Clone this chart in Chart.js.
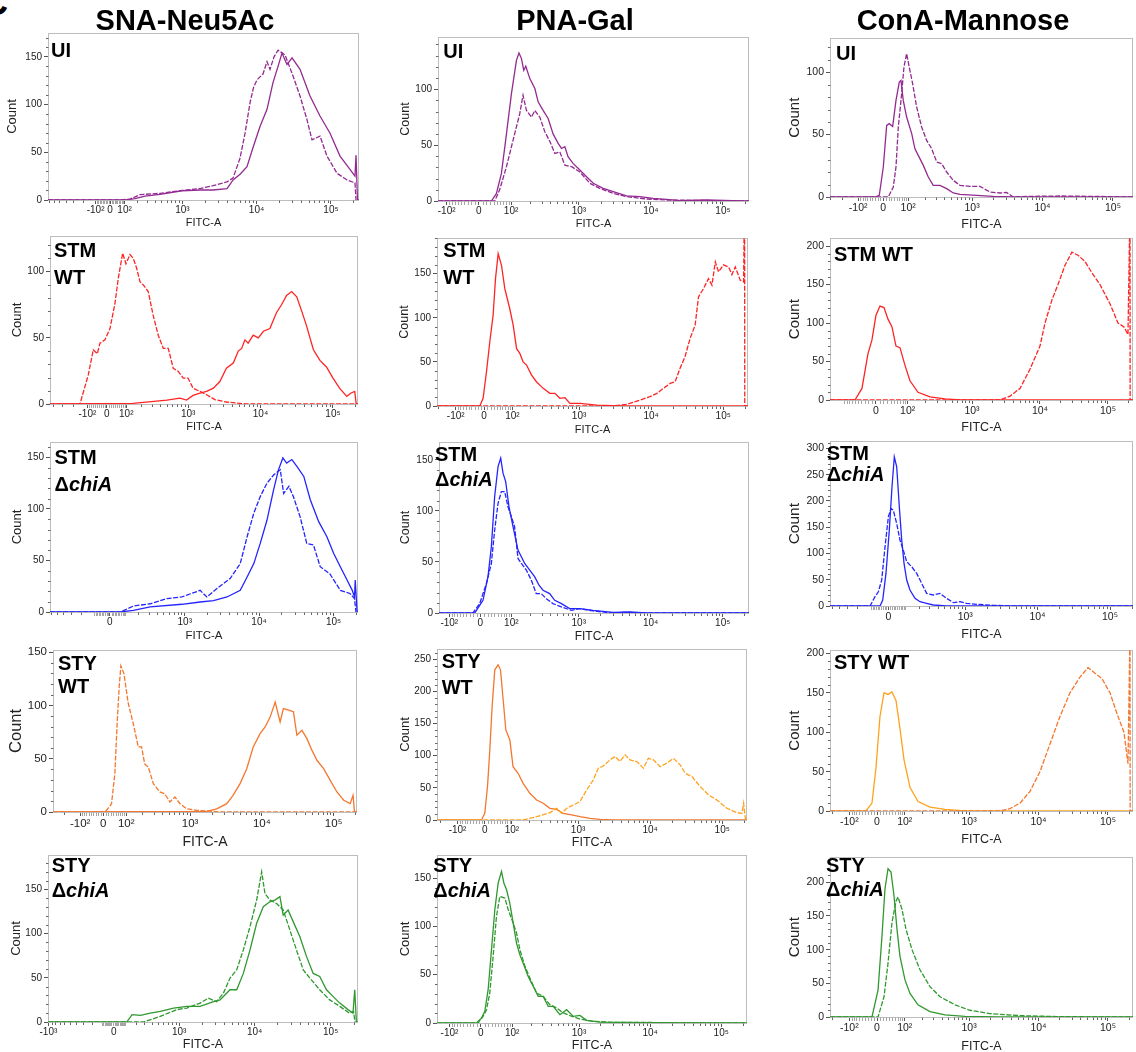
<!DOCTYPE html>
<html>
<head>
<meta charset="utf-8">
<script src="https://cdn.jsdelivr.net/npm/chart.js@4.4.1/dist/chart.umd.min.js"></script>
<style>
  body { margin: 0; background: #fff; width: 1136px; height: 1052px; position: relative; overflow: hidden;
         font-family: "Liberation Sans", Arial, sans-serif; }
  canvas { position: absolute; }
  .col { position: absolute; width: 300px; text-align: center; font-weight: bold; font-size: 29px; line-height: 1; color: #000; }
  .lab { position: absolute; font-weight: bold; font-size: 20px; color: #000; white-space: nowrap; }
  .lab i { font-style: italic; }
  .cut { position: absolute; left: -18px; top: -15px; font-weight: bold; font-size: 36px; line-height: 1; }
</style>
</head>
<body>
<div class="cut">C</div>
<script>
// column titles
const columns = ['SNA-Neu5Ac', 'PNA-Gal', 'ConA-Mannose'];

// x tick values (FITC) and their labels
const ticksStd = [-100, 0, 100, 1000, 10000, 100000];
const labelsStd = ['-10²', '0', '10²', '10³', '10⁴', '10⁵'];
const ticksZero = [0, 1000, 10000, 100000];
const labelsZero = ['0', '10³', '10⁴', '10⁵'];
const ticksNeg3 = [-1000, 0, 1000, 10000, 100000];
const labelsNeg3 = ['-10³', '0', '10³', '10⁴', '10⁵'];
const ticksNoNeg = [0, 100, 1000, 10000, 100000];
const labelsNoNeg = ['0', '10²', '10³', '10⁴', '10⁵'];

// histograms: [display position (decades), count]
// SNA-Neu5Ac
const sna_ui_solid = [[1.20,0],[2.235,0],[2.369,1.5],[2.503,4],[2.705,6],[3.0,9.7],[3.242,10.5],[3.416,10.5],[3.604,12],[3.685,21],[3.779,27],[3.872,35],[3.953,55],[4.047,77],[4.141,95],[4.221,123],[4.289,140],[4.342,154],[4.409,142],[4.477,149],[4.584,137],[4.718,109],[4.852,88],[4.987,70],[5.121,46],[5.255,32],[5.322,25],[5.336,47],[5.356,0],[5.376,0]];
const sna_ui_dashed = [[1.20,0],[2.168,0],[2.302,1],[2.436,5.6],[2.705,7],[3.0,10],[3.242,12],[3.416,15],[3.604,19],[3.685,23],[3.779,44],[3.846,70],[3.913,102],[3.96,118],[4.007,126],[4.087,132],[4.141,145],[4.181,137],[4.235,150],[4.289,157],[4.383,152],[4.490,130],[4.584,109],[4.678,84],[4.745,63],[4.852,67],[4.946,46],[5.081,28],[5.215,21],[5.322,18],[5.336,0]];
const sna_stmwt_solid = [[1.097,0],[2.24,0.5],[2.71,3],[2.89,4.5],[2.98,3],[3.07,6.5],[3.165,8.3],[3.258,9.5],[3.35,12],[3.44,17],[3.53,27],[3.625,31],[3.694,40],[3.74,42],[3.786,48.5],[3.83,46],[3.9,52],[3.97,50],[4.04,55],[4.13,57],[4.22,69],[4.29,75],[4.36,82],[4.43,85],[4.5,81],[4.57,70],[4.63,60],[4.73,41],[4.82,33],[4.91,28],[5.0,19.6],[5.09,12],[5.19,5.8],[5.25,8.3],[5.3,9.5],[5.32,0],[5.345,0]];
const sna_stmwt_dashed = [[1.097,0],[1.51,0],[1.625,22],[1.694,41],[1.749,38],[1.786,46],[1.855,48.5],[1.924,57],[1.993,76],[2.039,95],[2.099,114],[2.145,106],[2.2,113],[2.246,110],[2.292,102.6],[2.338,92.5],[2.384,90],[2.452,85],[2.52,67],[2.59,52],[2.66,42],[2.728,42],[2.797,27],[2.866,24.6],[2.935,19.6],[3.0,19.6],[3.07,12],[3.165,9.5],[3.258,7],[3.37,3.3],[3.53,1.5],[3.62,1],[3.81,0],[5.345,0]];
const sna_stmko_solid = [[1.197,0],[2.14,0],[2.315,1.6],[2.54,5],[2.965,7.5],[3.21,9.7],[3.39,11],[3.57,14.6],[3.748,21],[3.84,34],[3.93,47],[4.016,66.6],[4.106,89],[4.195,118.6],[4.26,138],[4.32,149.5],[4.37,144.6],[4.44,148],[4.51,141],[4.6,131.6],[4.687,109],[4.8,87.7],[4.91,73],[5.0,57],[5.09,44],[5.18,31],[5.25,21],[5.28,14.6],[5.29,31],[5.315,0],[5.327,0]];
const sna_stmko_dashed = [[1.197,0],[2.14,0],[2.315,5.8],[2.54,8],[2.764,13],[2.965,14.6],[3.21,21],[3.3,14.6],[3.435,22.7],[3.613,32.5],[3.748,47],[3.84,73],[3.93,96],[4.016,112],[4.106,125],[4.195,133],[4.285,138],[4.33,115],[4.4,122],[4.46,112],[4.55,92.6],[4.64,66.6],[4.73,65],[4.82,44],[4.95,37],[5.09,21],[5.22,18],[5.28,13],[5.3,0]];
const sna_stywt_solid = [[1.093,0],[3.233,0.5],[3.372,3],[3.512,7.8],[3.6,15.6],[3.697,26.6],[3.79,40.6],[3.88,61],[3.976,73.5],[4.046,79.7],[4.116,89],[4.186,103],[4.255,84.4],[4.3,97],[4.395,95],[4.44,94],[4.488,72],[4.558,76.6],[4.628,68.8],[4.697,58],[4.767,48.5],[4.86,40.6],[4.953,29.7],[5.046,18.8],[5.14,11],[5.23,7.8],[5.27,15.6],[5.29,0],[5.325,0]];
const sna_stywt_dashed = [[1.093,0],[1.80,0],[1.838,1.5],[1.908,7.8],[1.954,36],[1.986,83],[2.014,117],[2.038,137],[2.08,130],[2.14,102],[2.21,83],[2.28,61],[2.326,61],[2.37,45],[2.42,42],[2.49,26.6],[2.58,18.8],[2.65,17],[2.72,9.4],[2.79,14],[2.86,7.8],[2.954,3],[3.093,1.5],[3.233,1],[3.418,0],[5.325,0]];
const sna_styko_solid = [[1.285,0],[2.324,0.5],[2.39,8.3],[2.5,7.5],[2.63,10],[2.76,12],[2.935,15.8],[3.11,17.7],[3.284,17.7],[3.46,23],[3.546,25],[3.677,36.5],[3.765,36.5],[3.852,55],[3.94,81.6],[4.027,111.7],[4.114,130.5],[4.2,136],[4.267,138],[4.333,141.8],[4.376,121],[4.44,126.8],[4.507,113.6],[4.594,96.7],[4.683,74],[4.77,55],[4.856,51.5],[4.945,36.5],[5.03,29],[5.12,21.4],[5.228,14],[5.293,10],[5.316,36.5],[5.338,0],[5.359,0]];
const sna_styko_dashed = [[1.285,0],[2.54,0],[2.76,6.4],[2.98,14],[3.11,15.8],[3.284,21.4],[3.393,27],[3.503,23],[3.59,32.7],[3.677,49.7],[3.765,59],[3.852,81.6],[3.94,108],[4.027,138],[4.093,170],[4.136,145.6],[4.2,138],[4.29,134],[4.376,126.8],[4.464,104],[4.55,81.6],[4.64,59],[4.726,49.7],[4.856,36.5],[4.987,25],[5.12,17.7],[5.247,10],[5.3,12],[5.32,0]];

// PNA-Gal
const pna_ui_solid = [[1.046,0],[1.787,0],[1.857,6.8],[1.926,24.7],[1.996,60],[2.065,96],[2.135,126],[2.17,132.4],[2.204,127.4],[2.236,117],[2.264,120.5],[2.32,109.5],[2.39,100.6],[2.435,88.7],[2.504,81],[2.574,73.8],[2.643,60],[2.713,51.5],[2.76,47],[2.806,48.5],[2.85,39.6],[2.92,33.6],[3.014,27.7],[3.107,21.7],[3.2,15.8],[3.338,11.3],[3.476,8.3],[3.662,4.5],[3.847,3.9],[4.03,2.4],[4.218,1.5],[4.4,0.3],[4.77,0.9],[5.14,0.3],[5.361,0]];
const pna_ui_dashed = [[1.046,0],[1.833,0],[1.9,9.8],[1.996,30.7],[2.088,54.5],[2.18,78],[2.226,94.6],[2.273,81],[2.343,75],[2.39,81],[2.458,75],[2.528,62],[2.6,53],[2.667,42.6],[2.736,44],[2.806,32],[2.9,30.7],[3.014,26],[3.153,15.8],[3.29,11.3],[3.476,6.8],[3.662,3.9],[3.94,1.8],[4.218,0.9],[5.361,0]];
const pna_stmwt_solid = [[1.032,0],[1.625,0],[1.671,8.7],[1.718,38.8],[1.764,72.8],[1.81,103],[1.843,144.4],[1.88,172.7],[1.926,159.5],[1.972,133],[2.04,110.5],[2.088,91.6],[2.135,65],[2.18,59.6],[2.226,50],[2.273,46.4],[2.343,35],[2.41,27.5],[2.504,20],[2.597,14.3],[2.667,14.3],[2.736,8.7],[2.806,9.4],[2.875,3],[3.014,3],[3.246,1.1],[3.476,0.4],[3.662,0],[5.343,0]];
const pna_stmwt_dashed = [[1.032,0],[3.476,0],[3.662,1.9],[3.847,6.8],[3.986,10.6],[4.08,14.3],[4.17,20],[4.264,25.6],[4.333,27.5],[4.4,42.6],[4.47,55.8],[4.54,76.5],[4.61,91.6],[4.657,123.7],[4.726,133],[4.795,144.4],[4.843,137],[4.89,163.3],[4.935,152],[5.004,160],[5.074,157.6],[5.12,149],[5.167,157.6],[5.236,142.5],[5.282,140.6],[5.296,250],[5.298,0],[5.343,0]];
const pna_stmko_solid = [[1.06,0],[1.556,0],[1.625,7.5],[1.671,12.4],[1.74,35.4],[1.787,64.8],[1.833,114],[1.88,143.4],[1.917,151.6],[1.949,136.9],[1.986,128.7],[2.032,104],[2.088,84.5],[2.157,61.6],[2.25,48.5],[2.32,42],[2.39,35.4],[2.449,27.2],[2.504,22.3],[2.597,19],[2.667,12.4],[2.76,9.2],[2.875,4.3],[3.014,4.3],[3.2,2.6],[3.476,0.7],[3.71,1],[3.94,0],[5.365,0]];
const pna_stmko_dashed = [[1.06,0],[1.532,0],[1.625,9.2],[1.718,28.8],[1.787,48.5],[1.833,81.2],[1.88,107.4],[1.926,118.9],[1.972,118.9],[2.018,104],[2.065,94.3],[2.11,84.5],[2.157,53.4],[2.204,48.5],[2.273,42],[2.343,32],[2.41,19],[2.48,19],[2.55,14],[2.643,9.2],[2.76,5.9],[2.9,2.6],[3.014,4.3],[3.2,2],[3.476,0],[3.662,0.7],[3.94,0],[5.365,0]];
const pna_stywt_solid = [[1.046,0],[1.663,0],[1.708,10.4],[1.746,52],[1.778,109],[1.81,176.5],[1.847,233.6],[1.893,241.4],[1.926,233.6],[1.963,187],[2.0,140.2],[2.056,124.6],[2.1,83],[2.17,72.7],[2.24,57],[2.333,41.5],[2.426,31],[2.518,26],[2.611,18.2],[2.704,16.6],[2.796,10.4],[2.912,7.8],[3.028,5.2],[3.167,2.6],[3.306,1],[3.49,0],[5.343,0]];
const pna_stywt_dashed = [[1.046,0],[2.24,0],[2.426,5.2],[2.611,11.4],[2.704,18.2],[2.774,10.4],[2.843,18.2],[2.935,23.4],[3.028,28.6],[3.12,46.7],[3.213,62.3],[3.282,80.5],[3.35,84],[3.444,93.5],[3.514,98.7],[3.583,91],[3.653,101.3],[3.722,93.5],[3.815,91],[3.907,80.5],[3.976,96],[4.046,93.5],[4.139,83],[4.23,88.3],[4.324,96],[4.417,85.7],[4.486,72.7],[4.58,67.5],[4.694,52],[4.81,39],[4.926,31],[5.065,18.2],[5.204,11.4],[5.273,10.4],[5.296,26],[5.32,2.6],[5.343,0]];
const pna_styko_solid = [[1.004,0],[1.559,0],[1.63,5.2],[1.676,12],[1.723,34.5],[1.77,76],[1.817,117.3],[1.864,145],[1.911,157],[1.944,145],[1.982,138],[2.028,124],[2.075,103.5],[2.122,82.8],[2.169,70.7],[2.216,62],[2.286,48.3],[2.356,38],[2.427,27.6],[2.497,27.6],[2.568,17.3],[2.638,17.3],[2.732,8.6],[2.827,13.8],[2.92,6.9],[3.014,7.9],[3.108,2.8],[3.296,1],[3.577,0.7],[3.953,0.3],[5.362,0]];
const pna_styko_dashed = [[1.004,0],[1.582,0],[1.652,6.9],[1.7,13.8],[1.746,31],[1.793,69],[1.84,110.4],[1.887,131],[1.958,129.4],[2.005,117.3],[2.075,103.5],[2.122,93.2],[2.169,76],[2.24,58.7],[2.31,46.6],[2.404,31],[2.497,27.6],[2.59,19],[2.686,15.5],[2.78,10.4],[2.9,6.9],[3.014,4.1],[3.2,1.7],[3.483,0.7],[5.362,0]];

// ConA-Mannose
const cona_ui_solid = [[0.986,0],[1.624,0],[1.685,1.3],[1.742,24],[1.79,57.3],[1.827,58.7],[1.875,56.5],[1.922,77.3],[1.969,92],[1.993,93.3],[2.025,77.3],[2.073,64],[2.145,50.7],[2.19,38.7],[2.238,33.3],[2.31,25.3],[2.38,16],[2.45,9.3],[2.546,9.3],[2.64,6.7],[2.735,3.2],[2.83,2.1],[3.066,1.3],[3.3,0.5],[3.586,0],[5.284,0]];
const cona_ui_dashed = [[0.986,0],[1.813,0],[1.884,8],[1.922,24],[1.955,56],[2.0,81.3],[2.035,104],[2.073,114.7],[2.11,104],[2.158,90.7],[2.215,72],[2.286,56],[2.357,45.3],[2.428,38.7],[2.5,28],[2.57,26.7],[2.64,20],[2.735,13.3],[2.83,9.3],[2.97,8.5],[3.113,8.5],[3.255,4],[3.397,3.2],[3.49,3.7],[3.586,0],[3.776,0.5],[4.248,0.8],[4.72,0.5],[5.284,0]];
const cona_stmwt_solid = [[0.912,0],[1.279,0],[1.382,15],[1.47,60],[1.529,78],[1.588,110],[1.647,122],[1.706,120],[1.765,105],[1.824,95],[1.882,70],[1.941,68],[2.015,45],[2.088,25],[2.206,10],[2.382,4],[2.603,1.5],[2.824,0],[5.368,0]];
const cona_stmwt_dashed = [[0.912,0],[3.412,0],[3.559,5],[3.706,15],[3.853,40],[4.0,70],[4.074,100],[4.176,130],[4.265,150],[4.368,175],[4.47,192],[4.559,188],[4.662,180],[4.765,165],[4.882,150],[5.029,125],[5.147,100],[5.235,95],[5.294,85],[5.324,250],[5.326,0],[5.368,0]];
const cona_stmko_solid = [[1.138,0],[1.828,0],[1.865,11.4],[1.91,62],[1.956,144.5],[1.993,227],[2.025,284],[2.058,265],[2.094,189],[2.127,125.5],[2.159,81],[2.196,49.4],[2.241,30.4],[2.31,14.6],[2.379,8.2],[2.471,5],[2.563,1.9],[2.747,0],[5.317,0]];
const cona_stmko_dashed = [[1.138,0],[1.69,0],[1.759,17.7],[1.805,27],[1.851,49.4],[1.897,112.8],[1.943,170],[1.98,185.7],[2.011,182.5],[2.058,157],[2.103,125.5],[2.149,106.5],[2.196,84.3],[2.265,74.8],[2.334,62],[2.403,43],[2.471,24],[2.563,21],[2.655,24],[2.747,14.6],[2.839,6.3],[2.931,8.2],[3.023,5],[3.16,3.2],[3.39,1.3],[3.666,0],[5.317,0]];
const cona_stywt_solid = [[1.0,0],[1.518,0],[1.604,10],[1.662,55],[1.719,120],[1.777,150],[1.835,148],[1.892,151],[1.95,140],[2.007,105],[2.065,65],[2.151,30],[2.266,12],[2.439,5],[2.655,2],[2.942,0],[5.36,0]];
const cona_stywt_dashed = [[1.0,0],[3.446,0],[3.59,3],[3.734,10],[3.878,25],[4.022,50],[4.165,85],[4.309,120],[4.453,150],[4.597,170],[4.712,182],[4.813,175],[4.914,168],[5.029,150],[5.144,120],[5.23,100],[5.288,60],[5.317,230],[5.319,0],[5.36,0]];
const cona_styko_solid = [[1.0,0],[1.604,0],[1.691,40],[1.748,120],[1.791,190],[1.835,220],[1.878,215],[1.921,180],[1.964,130],[2.007,90],[2.079,55],[2.151,35],[2.266,18],[2.439,8],[2.655,3],[2.942,1],[3.446,0],[5.36,0]];
const cona_styko_dashed = [[1.0,0],[1.691,0],[1.777,30],[1.835,80],[1.892,140],[1.95,172],[1.978,178],[2.036,160],[2.094,130],[2.18,100],[2.295,70],[2.439,45],[2.583,30],[2.799,18],[3.014,10],[3.302,5],[3.734,2],[4.309,0.5],[5.36,0]];

const FONT = '"Liberation Sans", Arial, sans-serif';
const purple = '#932a91', red = '#ff2424', blue = '#2424ff', green = '#2f992f';
const orangeA = '#f4772e', orangeB = '#ffa11c';

// display transform (arcsinh-like, decades at large values)
function tf(v, w) { return Math.log10(v / 2 + Math.sqrt(v * v / 4 + w * w)); }

const panels = [
  { box: [48, 33, 359, 200], ymax: 175, d: [1.20, 5.376], w: 108, ticks: ticksStd, labels: labelsStd, solid: sna_ui_solid, dashed: sna_ui_dashed, c1: purple, c2: purple, countOff: 36, countSize: 13, fitcOff: 23, fitcSize: 11, tickSize: 10, tag: ['UI'], tagPos: [51, 42.7, 22] },
  { box: [50, 236, 358, 404], ymax: 127, d: [1.097, 5.345], w: 76, ticks: ticksStd, labels: labelsStd, solid: sna_stmwt_solid, dashed: sna_stmwt_dashed, c1: red, c2: red, countOff: 33, countSize: 13, fitcOff: 23, fitcSize: 11, tickSize: 10, tag: ['STM', 'WT'], tagPos: [54, 243.3, 26.7] },
  { box: [50, 442, 358, 612], ymax: 165, d: [1.197, 5.327], w: 100, ticks: ticksZero, labels: labelsZero, solid: sna_stmko_solid, dashed: sna_stmko_dashed, c1: blue, c2: blue, countOff: 33, countSize: 13, fitcOff: 24, fitcSize: 11.5, tickSize: 10, tag: ['STM', 'Δ<i>chiA</i>'], tagPos: [54.5, 450, 26.7] },
  { box: [53, 649, 357, 812], ymax: 152, d: [1.093, 5.325], w: 62, ticks: ticksStd, labels: labelsStd, solid: sna_stywt_solid, dashed: sna_stywt_dashed, c1: orangeA, c2: orangeA, countOff: 37, countSize: 16.5, fitcOff: 30, fitcSize: 14, tickSize: 11.5, tag: ['STY', 'WT'], tagPos: [58, 656, 23] },
  { box: [48, 855, 358, 1022], ymax: 189, d: [1.285, 5.359], w: 141, ticks: ticksNeg3, labels: labelsNeg3, solid: sna_styko_solid, dashed: sna_styko_dashed, c1: green, c2: green, countOff: 32, countSize: 13, fitcOff: 23, fitcSize: 12.5, tickSize: 10, tag: ['STY', 'Δ<i>chiA</i>'], tagPos: [51.7, 858.3, 25] },

  { box: [438, 37, 749, 201], ymax: 146.7, d: [1.046, 5.361], w: 41, ticks: ticksStd, labels: labelsStd, solid: pna_ui_solid, dashed: pna_ui_dashed, c1: purple, c2: purple, countOff: 32, countSize: 12.5, fitcOff: 23, fitcSize: 11, tickSize: 10, tag: ['UI'], tagPos: [443.3, 43.3, 22] },
  { box: [437, 238, 748, 406], ymax: 190.4, d: [1.032, 5.343], w: 48.4, ticks: ticksStd, labels: labelsStd, solid: pna_stmwt_solid, dashed: pna_stmwt_dashed, c1: red, c2: red, countOff: 32, countSize: 12.5, fitcOff: 24, fitcSize: 11, tickSize: 10, tag: ['STM', 'WT'], tagPos: [443.3, 243.3, 26.7] },
  { box: [439, 442, 749, 613], ymax: 167.4, d: [1.06, 5.365], w: 43, ticks: ticksStd, labels: labelsStd, solid: pna_stmko_solid, dashed: pna_stmko_dashed, c1: blue, c2: blue, countOff: 33, countSize: 12.5, fitcOff: 24, fitcSize: 12, tickSize: 10, tag: ['STM', 'Δ<i>chiA</i>'], tagPos: [435, 446.7, 25] },
  { box: [437, 649, 747, 820], ymax: 266, d: [1.046, 5.343], w: 51, ticks: ticksStd, labels: labelsStd, solid: pna_stywt_solid, dashed: pna_stywt_dashed, c1: orangeA, c2: orangeB, countOff: 32, countSize: 13, fitcOff: 23, fitcSize: 12.5, tickSize: 10, tag: ['STY', 'WT'], tagPos: [441.7, 653.3, 26] },
  { box: [437, 855, 747, 1023], ymax: 174, d: [1.004, 5.362], w: 41.7, ticks: ticksStd, labels: labelsStd, solid: pna_styko_solid, dashed: pna_styko_dashed, c1: green, c2: green, countOff: 32, countSize: 13, fitcOff: 23, fitcSize: 12.5, tickSize: 10, tag: ['STY', 'Δ<i>chiA</i>'], tagPos: [433.3, 858.3, 25] },

  { box: [830, 38, 1133, 197], ymax: 127, d: [0.986, 5.284], w: 55, ticks: ticksStd, labels: labelsStd, solid: cona_ui_solid, dashed: cona_ui_dashed, c1: purple, c2: purple, countOff: 35, countSize: 15, fitcOff: 28, fitcSize: 12.5, tickSize: 10.5, tag: ['UI'], tagPos: [836, 45.7, 22] },
  { box: [830, 238, 1133, 400], ymax: 210, d: [0.912, 5.368], w: 38.7, ticks: ticksNoNeg, labels: labelsNoNeg, solid: cona_stmwt_solid, dashed: cona_stmwt_dashed, c1: red, c2: red, countOff: 35, countSize: 15, fitcOff: 28, fitcSize: 12.5, tickSize: 10.5, tag: ['STM WT'], tagPos: [834, 246.5, 22] },
  { box: [830, 441, 1133, 606], ymax: 313.7, d: [1.138, 5.317], w: 87.5, ticks: ticksZero, labels: labelsZero, solid: cona_stmko_solid, dashed: cona_stmko_dashed, c1: blue, c2: blue, countOff: 35, countSize: 15.5, fitcOff: 29, fitcSize: 12.5, tickSize: 10.5, tag: ['STM', 'Δ<i>chiA</i>'], tagPos: [826.7, 445.7, 21] },
  { box: [830, 650, 1133, 811], ymax: 204, d: [1.0, 5.36], w: 47.5, ticks: ticksStd, labels: labelsStd, solid: cona_stywt_solid, dashed: cona_stywt_dashed, c1: orangeB, c2: orangeA, countOff: 35, countSize: 15, fitcOff: 29, fitcSize: 12.5, tickSize: 10.5, tag: ['STY WT'], tagPos: [834, 655, 22] },
  { box: [830, 857, 1133, 1017], ymax: 237, d: [1.0, 5.36], w: 47.5, ticks: ticksStd, labels: labelsStd, solid: cona_styko_solid, dashed: cona_styko_dashed, c1: green, c2: green, countOff: 35, countSize: 15, fitcOff: 30, fitcSize: 12.5, tickSize: 10.5, tag: ['STY', 'Δ<i>chiA</i>'], tagPos: [826, 858, 24] }
];

// minor tick positions (FITC values)
const linMinors = [];
for (let v = -100; v <= 100; v += 10) if (v !== 0) linMinors.push(v);
const logMinors = [-1000, 1000];
for (let n = 2; n <= 4; n++) for (let k = 2; k <= 9; k++) { logMinors.push(k * 10 ** n); logMinors.push(-k * 10 ** n); }
logMinors.push(200000);

const frameTicks = {
  id: 'frameTicks',
  beforeDatasetsDraw(chart, args, o) {
    const { ctx, chartArea: a, scales: { x, y } } = chart;
    const L = Math.round(a.left) + 0.5, T = Math.round(a.top) + 0.5;
    const R = Math.round(a.right) - 0.5, B = Math.round(a.bottom) + 0.5;
    ctx.save();
    ctx.lineWidth = 1;
    ctx.strokeStyle = '#bdbdbd';
    ctx.strokeRect(L, T, R - L, B - T);
    ctx.strokeStyle = '#666';
    ctx.beginPath();
    for (let v = 10; v < o.ymax; v += 10) {
      if (v % 50 === 0) continue;
      const py = Math.round(y.getPixelForValue(v)) + 0.5;
      ctx.moveTo(L, py); ctx.lineTo(L - 2.5, py);
    }
    const inRange = d => d >= x.min && d <= x.max;
    logMinors.forEach(v => {
      if (o.majors.includes(v)) return;
      const d = tf(v, o.w);
      if (!inRange(d)) return;
      const px = Math.round(x.getPixelForValue(d)) + 0.5;
      ctx.moveTo(px, B); ctx.lineTo(px, B + 2.5);
    });
    ctx.stroke();
    ctx.strokeStyle = '#a6a6a6';
    ctx.beginPath();
    linMinors.forEach(v => {
      if (o.majors.includes(v)) return;
      const d = tf(v, o.w);
      if (!inRange(d)) return;
      const px = Math.round(x.getPixelForValue(d)) + 0.5;
      ctx.moveTo(px, B); ctx.lineTo(px, B + 3.5);
    });
    ctx.stroke();
    ctx.restore();
  }
};

const YW = 48, TP = 8, RP = 6;
const toXY = arr => arr.map(([x, y]) => ({ x, y }));

panels.forEach(p => {
  const [l, t, r, b] = p.box;
  const lhX = p.fitcSize * 1.2, lhY = p.countSize * 1.2;
  const H = Math.ceil(b - t + TP + p.fitcOff + lhX / 2);
  const xh = H - (b - t + TP);
  const W = r - l + YW + RP;
  const cv = document.createElement('canvas');
  cv.width = W; cv.height = H;
  cv.style.left = (l - YW) + 'px'; cv.style.top = (t - TP) + 'px';
  cv.style.width = W + 'px'; cv.style.height = H + 'px';
  document.body.appendChild(cv);

  const yTicks = [];
  for (let v = 0; v <= p.ymax; v += 50) yTicks.push(v);

  new Chart(cv.getContext('2d'), {
    type: 'line',
    data: {
      datasets: [
        { data: toXY(p.dashed), borderColor: p.c2, borderWidth: 1.3, borderDash: [5, 1.6], pointRadius: 0, tension: 0 },
        { data: toXY(p.solid), borderColor: p.c1, borderWidth: 1.3, pointRadius: 0, tension: 0 }
      ]
    },
    options: {
      responsive: false,
      animation: false,
      events: [],
      layout: { padding: { left: 0, top: TP, right: RP, bottom: 0 } },
      plugins: {
        legend: { display: false },
        tooltip: { enabled: false },
        frameTicks: { ymax: p.ymax, w: p.w, majors: p.ticks }
      },
      scales: {
        x: {
          type: 'linear',
          min: p.d[0],
          max: p.d[1],
          afterBuildTicks: s => { s.ticks = p.ticks.map(v => ({ value: tf(v, p.w) })); },
          afterFit: s => { s.height = xh; },
          ticks: {
            autoSkip: false, maxRotation: 0, minRotation: 0, padding: 0.5,
            color: '#222', font: { family: FONT, size: p.tickSize },
            callback: (v, i) => p.labels[i]
          },
          grid: { drawOnChartArea: false, tickLength: 4, tickColor: '#555' },
          border: { display: false },
          title: {
            display: true, text: 'FITC-A', color: '#222',
            font: { family: FONT, size: p.fitcSize },
            padding: { top: 0, bottom: xh - p.fitcOff - lhX / 2 }
          }
        },
        y: {
          min: 0,
          max: p.ymax,
          afterBuildTicks: s => { s.ticks = yTicks.map(v => ({ value: v })); },
          afterFit: s => { s.width = YW; },
          ticks: { padding: 2, color: '#222', font: { family: FONT, size: p.tickSize } },
          grid: { drawOnChartArea: false, tickLength: 4, tickColor: '#555' },
          border: { display: false },
          title: {
            display: true, text: 'Count', color: '#222',
            font: { family: FONT, size: p.countSize },
            padding: { top: YW - p.countOff - lhY / 2, bottom: 0 }
          }
        }
      }
    },
    plugins: [frameTicks]
  });

  // panel tag
  const [tx, capTop, gap] = p.tagPos;
  const tag = document.createElement('div');
  tag.className = 'lab';
  tag.style.left = tx + 'px';
  tag.style.top = (capTop - gap / 2 + 7.4) + 'px';
  tag.style.lineHeight = gap + 'px';
  tag.innerHTML = p.tag.join('<br>');
  document.body.appendChild(tag);
});

// column titles
[185, 575, 963].forEach((cx, i) => {
  const el = document.createElement('div');
  el.className = 'col';
  el.style.left = (cx - 150) + 'px';
  el.style.top = '6px';
  el.textContent = columns[i];
  document.body.appendChild(el);
});
</script>
</body>
</html>
